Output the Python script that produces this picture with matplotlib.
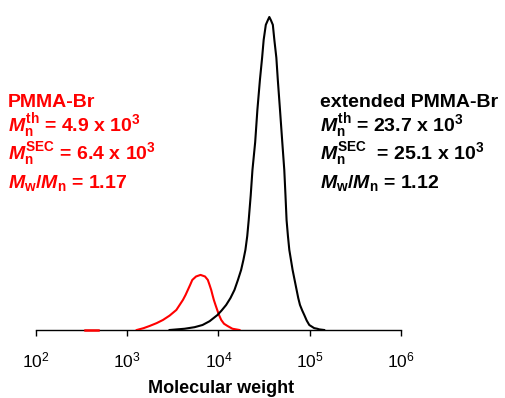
import matplotlib
matplotlib.use("Agg")
import matplotlib.pyplot as plt
from matplotlib.ticker import LogLocator, NullLocator

# (molecular weight, normalised detector signal)
ext_mw = [2911, 4250, 5470, 6683, 7980, 9750, 10790, 12130, 13520, 14960,
          16330, 17700, 18750, 19720, 20650, 21430, 22540, 23550, 25230,
          26670, 28440, 30060, 31260, 33000, 34750, 36060, 37500, 39400,
          40930, 43050, 44670, 47210, 50000, 52600, 54200, 55720, 57680,
          59700, 62230, 64860, 68230, 71780, 74820, 78160, 82790, 87100,
          92680, 98850, 103800, 109100, 111900, 120800, 127000, 143900]
ext_sig = [0.0, 0.004, 0.009, 0.016, 0.028, 0.048, 0.062, 0.080, 0.102, 0.128,
           0.160, 0.192, 0.224, 0.256, 0.300, 0.351, 0.430, 0.511, 0.600,
           0.703, 0.799, 0.870, 0.927, 0.975, 0.990, 1.0, 0.990, 0.975,
           0.927, 0.870, 0.799, 0.703, 0.600, 0.511, 0.430, 0.351, 0.300,
           0.256, 0.224, 0.192, 0.160, 0.128, 0.102, 0.080, 0.062, 0.048,
           0.030, 0.016, 0.012, 0.008, 0.006, 0.004, 0.002, 0.0]

pre_mw = [1271, 1514, 1762, 2100, 2460, 2911, 3451, 3750, 4074, 4355, 4613,
          4887, 5164, 5676, 6353, 7111, 7638, 7980, 8318, 8593, 8892, 9270,
          9683, 10120, 10720, 11490, 12530, 14220, 16980]
pre_sig = [0.0, 0.006, 0.013, 0.022, 0.032, 0.046, 0.064, 0.080, 0.096, 0.112,
           0.128, 0.144, 0.160, 0.171, 0.176, 0.171, 0.160, 0.144, 0.128,
           0.112, 0.096, 0.080, 0.064, 0.048, 0.032, 0.020, 0.013, 0.004, 0.0]

# short red piece sitting on the baseline
stub_mw = [344, 476]
stub_sig = [0.0, 0.0]

left_lines = ["PMMA-Br",
              r"$M_\mathbf{n}^\mathbf{th}$ = 4.9 x 10$^\mathbf{3}$",
              r"$M_\mathbf{n}^\mathbf{SEC}$ = 6.4 x 10$^\mathbf{3}$",
              r"$M_\mathbf{w}$/$M_\mathbf{n}$ = 1.17"]
right_lines = ["extended PMMA-Br",
               r"$M_\mathbf{n}^\mathbf{th}$ = 23.7 x 10$^\mathbf{3}$",
               r"$M_\mathbf{n}^\mathbf{SEC}$  = 25.1 x 10$^\mathbf{3}$",
               r"$M_\mathbf{w}$/$M_\mathbf{n}$ = 1.12"]
line_base_px = [107, 131, 159, 188]

plt.rcParams['font.family'] = ['Liberation Sans', 'DejaVu Sans']
plt.rcParams['mathtext.fontset'] = 'custom'
plt.rcParams['mathtext.rm'] = 'Liberation Sans'
plt.rcParams['mathtext.it'] = 'Liberation Sans:italic:bold'
plt.rcParams['mathtext.bf'] = 'Liberation Sans:bold'

W, H = 505, 398
fig = plt.figure(figsize=(W / 100, H / 100), dpi=100)
ax = fig.add_axes([36 / W, 1 - 330 / H, 365 / W, 320 / H])

ax.plot(ext_mw, ext_sig, color='black', lw=1.5, solid_joinstyle='round', zorder=3)
ax.plot(pre_mw, pre_sig, color='red', lw=1.5, solid_joinstyle='round', zorder=2)
ax.plot(stub_mw, stub_sig, color='red', lw=1.8, zorder=4, clip_on=False)

ax.set_xscale('log')
ax.set_xlim(1e2, 1e6)
ax.set_ylim(0, 320 / 313)
ax.xaxis.set_major_locator(LogLocator(base=10, numticks=10))
ax.xaxis.set_minor_locator(NullLocator())
ax.yaxis.set_major_locator(NullLocator())
for s in ['left', 'right', 'top']:
    ax.spines[s].set_visible(False)
ax.spines['bottom'].set_linewidth(1.0)
ax.spines['bottom'].set_zorder(1)
ax.tick_params(axis='x', direction='out', length=4, width=1.0, pad=11,
               labelsize=12.5)

fig.text(221 / W, 1 - 393 / H, "Molecular weight", ha='center', va='baseline',
         fontsize=13, fontweight='bold')

for txt, yb in zip(left_lines, line_base_px):
    fig.text(8 / W, 1 - yb / H, txt, color='red', fontsize=14,
             fontweight='bold', ha='left', va='baseline')
for txt, yb in zip(right_lines, line_base_px):
    fig.text(320 / W, 1 - yb / H, txt, color='black', fontsize=14,
             fontweight='bold', ha='left', va='baseline')

fig.savefig("out.png", dpi=100)
